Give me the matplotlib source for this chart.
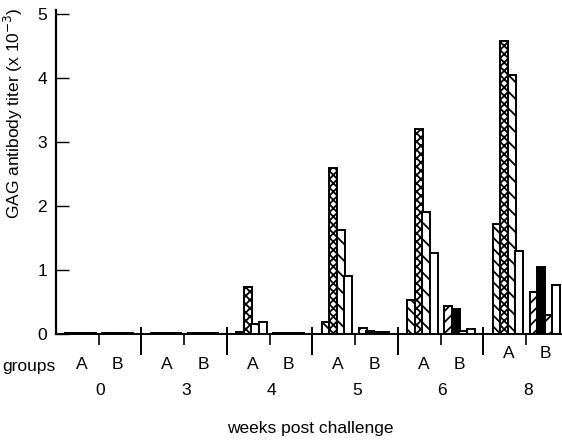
import numpy as np
import matplotlib
matplotlib.use("Agg")
import matplotlib.pyplot as plt

plt.rcParams['font.family'] = ['Liberation Sans Narrow', 'Liberation Sans', 'DejaVu Sans']
plt.rcParams['hatch.linewidth'] = 1.3

# Weeks after challenge and the four bars per group (titer x 10^-3)
weeks = ['0', '3', '4', '5', '6', '8']
group_a_1 = [0.01, 0.01, 0.03, 0.18, 0.53, 1.72]
group_a_2 = [0.01, 0.01, 0.73, 2.60, 3.20, 4.58]
group_a_3 = [0.01, 0.01, 0.16, 1.63, 1.90, 4.05]
group_a_4 = [0.01, 0.01, 0.19, 0.90, 1.26, 1.29]
group_b_1 = [0.01, 0.01, 0.02, 0.09, 0.43, 0.65]
group_b_2 = [0.01, 0.01, 0.02, 0.05, 0.39, 1.05]
group_b_3 = [0.01, 0.01, 0.02, 0.03, 0.05, 0.30]
group_b_4 = [0.01, 0.01, 0.02, 0.03, 0.08, 0.77]
y_ticks = [0, 1, 2, 3, 4, 5]

fig = plt.figure(figsize=(5.62, 4.42), dpi=100)
ax = fig.add_axes([55.5 / 562, 1 - 334 / 442, 1 - 55.5 / 562, (334 - 10) / 442])

x = np.arange(len(weeks))
width = 0.095
step = 0.088
a_center = -0.21
b_center = 0.22

a_series = [(group_a_1, '\\\\\\', 'white'), (group_a_2, 'xxxx', 'white'),
            (group_a_3, '\\\\', 'white'), (group_a_4, '', 'white')]
b_series = [(group_b_1, '///', 'white'), (group_b_2, '', 'black'),
            (group_b_3, '//', 'white'), (group_b_4, '', 'white')]

for center, series in ((a_center, a_series), (b_center, b_series)):
    for i, (vals, hatch, fc) in enumerate(series):
        ax.bar(x + center + (i - 1.5) * step, vals, width=width, facecolor=fc,
               edgecolor='black', hatch=hatch, linewidth=1.4, zorder=2 + i)

ax.set_xlim(-0.504, 5.42)
ax.set_ylim(0, 5.06)
ax.spines['top'].set_visible(False)
ax.spines['right'].set_visible(False)
ax.spines['left'].set_linewidth(1.6)
ax.spines['bottom'].set_linewidth(1.4)

ax.set_yticks(y_ticks)
ax.set_yticklabels([str(t) for t in y_ticks], fontsize=12.5)
ax.tick_params(axis='y', direction='in', length=9, width=1, pad=6)

# short ticks under each week, tall separators between weeks
ax.set_xticks(x)
ax.set_xticklabels([])
ax.tick_params(axis='x', direction='out', length=8, width=1.2)
ax.vlines(x[:-1] + 0.5, -0.33, 0.11, colors='black', linewidth=1.4, clip_on=False)

for xi, wk in zip(x, weeks):
    ly = -0.31 if wk == '8' else -0.48
    ax.text(xi + a_center + 0.01, ly, 'A', ha='center', va='center', fontsize=12.5)
    ax.text(xi + b_center, ly, 'B', ha='center', va='center', fontsize=12.5)
    ax.text(xi + 0.02, -0.89, wk, ha='center', va='center', fontsize=12.5)

fig.text(2 / 562, 1 - 366 / 442, 'groups', ha='left', va='center', fontsize=12.5)
fig.text(310 / 562, 1 - 429 / 442, 'weeks post challenge', ha='center', va='center', fontsize=12.5)
fig.text(13 / 562, 1 - 113 / 442, 'GAG antibody titer (x 10$^{-3}$)', rotation=90,
         ha='center', va='center', fontsize=12.5)

fig.savefig('out.png', dpi=100)
